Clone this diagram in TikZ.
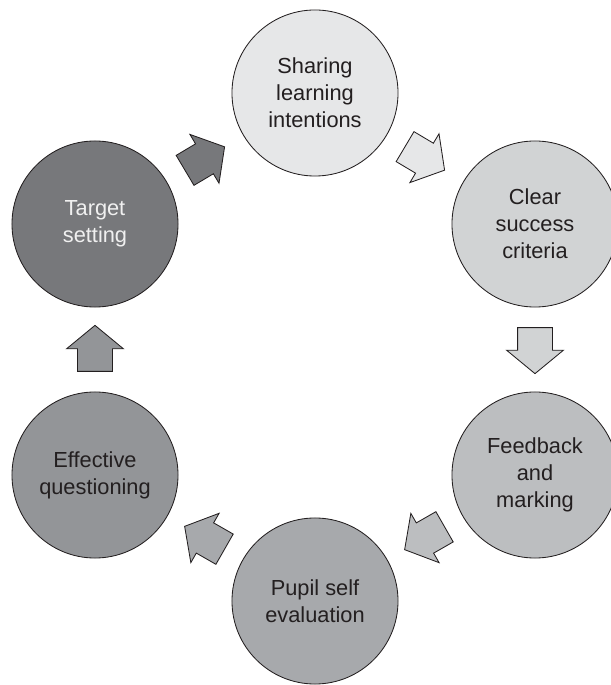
\documentclass[tikz,border=0pt]{standalone}
\usepackage{fontspec}
\setmainfont{Liberation Sans}
\usetikzlibrary{shapes.arrows}
\definecolor{inkgray}{HTML}{231F20}
\definecolor{toneA}{HTML}{E6E7E8}
\definecolor{toneB}{HTML}{D1D3D4}
\definecolor{toneC}{HTML}{BCBEC0}
\definecolor{toneD}{HTML}{A7A9AC}
\definecolor{toneE}{HTML}{939598}
\definecolor{toneF}{HTML}{77787B}
\tikzset{
    stage/.style={
        draw=inkgray,
        circle,
        line width=0.6pt,
        minimum size=4.15cm,
        inner sep=0pt,
        align=center,
        text=inkgray,
        font=\fontsize{15.5}{19.2}\selectfont
    },
    flow/.style={
        single arrow,
        draw=inkgray,
        line width=0.6pt,
        minimum height=1.15cm,
        inner xsep=0pt,
        inner ysep=0.425cm,
        single arrow head extend=0.275cm,
        single arrow tip angle=101,
        sloped,
        allow upside down,
        anchor=tail,
        pos=0.235
    },
}
\begin{document}
\begin{tikzpicture}[x=0.025cm, y=0.025cm]
    \useasboundingbox (0,0) rectangle (611,685);
    % stages
    \node[stage, fill=toneA] (sharing) at (315,592) {Sharing\\learning\\intentions};
    \node[stage, fill=toneB] (criteria) at (535,461) {Clear\\success\\criteria};
    \node[stage, fill=toneC] (feedback) at (535,210) {Feedback\\and\\marking};
    \node[stage, fill=toneD] (selfeval) at (315,84) {Pupil self\\evaluation};
    \node[stage, fill=toneE] (questioning) at (95,210) {Effective\\questioning};
    \node[stage, fill=toneF, text=white!94!black] (target) at (95,461) {Target\\setting};

    % arrows
    \path (target) -- node[flow, fill=toneF] (a1) {} (sharing);
    \path (sharing) -- node[flow, fill=toneA] (a2) {} (criteria);
    \path (criteria) -- node[flow, fill=toneB] (a3) {} (feedback);
    \path (feedback) -- node[flow, fill=toneC] (a4) {} (selfeval);
    \path (selfeval) -- node[flow, fill=toneD] (a5) {} (questioning);
    \path (questioning) -- node[flow, fill=toneE] (a6) {} (target);
\end{tikzpicture}
\end{document}
